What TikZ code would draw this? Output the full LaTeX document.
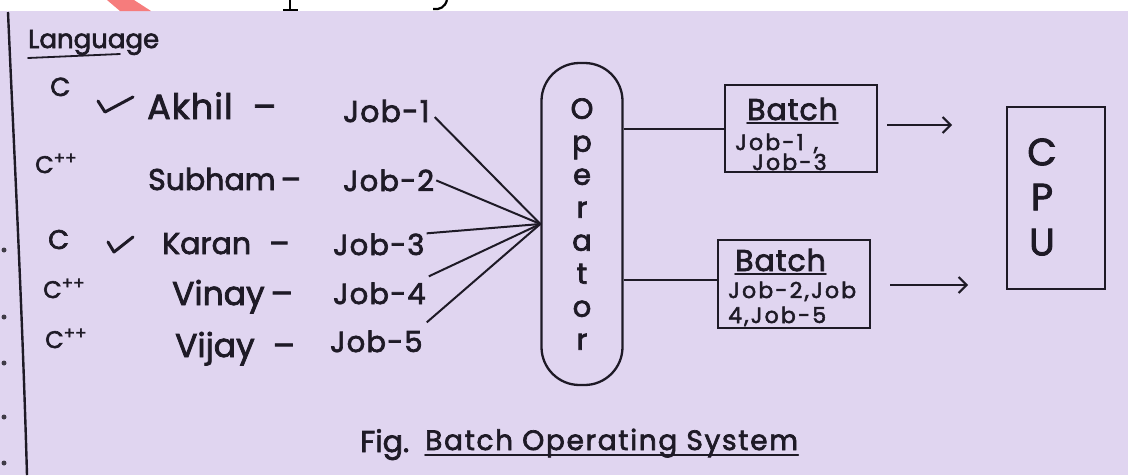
\documentclass[tikz,border=0pt]{standalone}
\usepackage{fontspec}
\setmainfont{Poppins}[FakeBold=2.4]
\usetikzlibrary{arrows.meta,calc}
\definecolor{paper}{RGB}{224,213,240}
\definecolor{ink}{RGB}{30,26,38}
\definecolor{redmark}{RGB}{246,124,124}
\newcommand{\hsz}[1]{\fontsize{#1}{#1}\selectfont}
\begin{document}
\begin{tikzpicture}[x=1pt,y=-1pt,
  txt/.style={text=ink,inner sep=0pt,anchor=base west},
  lang/.style={txt,font=\hsz{24}},
  who/.style={txt,font=\hsz{33}},
  jobtxt/.style={txt,font={\hsz{29}\addfontfeature{LetterSpace=4}}},
  small/.style={txt,font={\hsz{22}\addfontfeature{LetterSpace=10}}},
  head/.style={txt,font={\hsz{30}\addfontfeature{LetterSpace=3}}},
  link/.style={draw=ink,line width=2pt},
  boxed/.style={draw=ink,line width=2.3pt,inner sep=0pt},
  tick/.style={draw=ink,line width=3pt,line cap=round,line join=round},
  uline/.style={draw=ink,line width=1.8pt,line cap=round},
  arr/.style={draw=ink,line width=2pt,-{Straight Barb[length=8pt,width=16pt,line width=2pt]}}
]
\useasboundingbox (0,0) rectangle (1128,475);
\fill[white] (0,0) rectangle (1128,475);
\fill[paper] (0,11) rectangle (1128,475);
% top remnants
\fill[redmark] (107,0) -- (134,0) -- (151,11) -- (120,11) -- cycle;
\draw[black,line width=2.8pt] (290,0) -- (290,10);
\draw[black,line width=1.6pt] (283,10) -- (298,10);
\draw[black,line width=2.2pt] (447,0) .. controls (445,7) and (440,10) .. (433,9);
% margin line and marks
\draw[ink,line width=2.4pt] (8,12) .. controls (14,150) and (22,300) .. (27,475);
\foreach \yy in {250,317,363,417,463} \fill[ink!85] (4,\yy) circle (2.5);

% header
\node[txt,font=\hsz{26}] (langh) at (28,48) {Language};
\draw[uline] ([yshift=-10pt]langh.base west) -- ([yshift=-6pt]$(langh.base west)!0.7!(langh.base east)$);

% languages
\node[lang,font=\hsz{26}] (l1) at (50,96) {C};
\node[lang] (l2) at (35,173) {C\textsuperscript{++}};
\node[lang,font=\hsz{27}] (l3) at (48,249) {C};
\node[lang] (l4) at (43,298) {C\textsuperscript{++}};
\node[lang] (l5) at (45,348) {C\textsuperscript{++}};

% ticks
\draw[tick] (98,101) -- (105,112) -- (133,97);
\draw[tick] (108,242) -- (114,252) -- (133,237);

% names
\node[who,font={\hsz{35}\addfontfeature{LetterSpace=3}}] (n1) at (147,119) {Akhil\hspace*{20pt}–};
\node[who,font=\hsz{30}] (n2) at (148,190) {Subham\hspace*{5pt}–};
\node[who,font=\hsz{30}] (n3) at (162,254) {Karan\hspace*{18pt}–};
\node[who] (n4) at (172,305) {Vinay\hspace*{6pt}–};
\node[who] (n5) at (175,357) {Vijay\hspace*{18pt}–};

% jobs
\node[jobtxt,font={\hsz{30}\addfontfeature{LetterSpace=4}}] (j1) at (343,122) {Job-1};
\node[jobtxt] (j2) at (343,191) {Job-2};
\node[jobtxt] (j3) at (333,255) {Job-3};
\node[jobtxt] (j4) at (333,304) {Job-4};
\node[jobtxt] (j5) at (330,352) {Job-5};

% operator
\node[boxed,rounded corners=38pt,minimum width=81pt,minimum height=322pt,
      align=center,font=\fontsize{29}{33}\selectfont,text=ink] (op) at (582,224)
      {O\\p\\e\\r\\a\\t\\o\\r};

\draw[link] ([xshift=5pt,yshift=-6pt]j1.east) -- (op.west);
\draw[link] ([xshift=2pt]j2.east) -- (op.west);
\draw[link] ([xshift=2pt]j3.north east) -- (op.west);
\draw[link] ([xshift=3pt,yshift=6pt]j4.north east) -- (op.west);
\draw[link] ([xshift=4pt,yshift=8pt]j5.north east) -- (op.west);

% batches
\node[boxed,minimum width=152pt,minimum height=87pt] (b1) at (801,128.5) {};
\node[head] (b1t) at (747,120) {Batch};
\draw[uline] ([yshift=-3pt]b1t.base west) -- ([yshift=-3pt]b1t.base east);
\node[small] (b1a) at (735,150) {Job-1\hspace*{10pt},};
\node[small] (b1b) at (752,170) {Job-3};

\node[boxed,minimum width=152pt,minimum height=88pt] (b2) at (794,284) {};
\node[head] (b2t) at (735,271) {Batch};
\draw[uline] ([yshift=-3pt]b2t.base west) -- ([yshift=-3pt]b2t.base east);
\node[small] (b2a) at (728,298) {Job-2,Job};
\node[small] (b2b) at (728,323) {4,Job-5};

\draw[link] (op.east |- b1.west) -- (b1.west);
\draw[link] (op.east |- 0,280) -- (b2.west |- 0,280);

% cpu
\node[boxed,minimum width=98pt,minimum height=182pt] (cpu) at (1056,198) {};
\node[align=center,text=ink,inner sep=0pt,font=\fontsize{38}{45}\selectfont] (cput) at (1042,197) {C\\P\\U};

\coordinate (a1s) at (887,125);
\coordinate (a1e) at (952,125);
\coordinate (a2s) at (890,285);
\coordinate (a2e) at (968,285);
\draw[arr] (a1s) -- (a1e);
\draw[arr] (a2s) -- (a2e);

% caption
\node[txt,font=\hsz{30}] (fig) at (360,452) {Fig.};
\node[txt,font={\hsz{28}\addfontfeature{LetterSpace=6}}] (capt) at (425,450) {Batch Operating System};
\draw[uline] ([yshift=-5pt]capt.base west) -- ([yshift=-5pt]capt.base east);
\end{tikzpicture}
\end{document}
